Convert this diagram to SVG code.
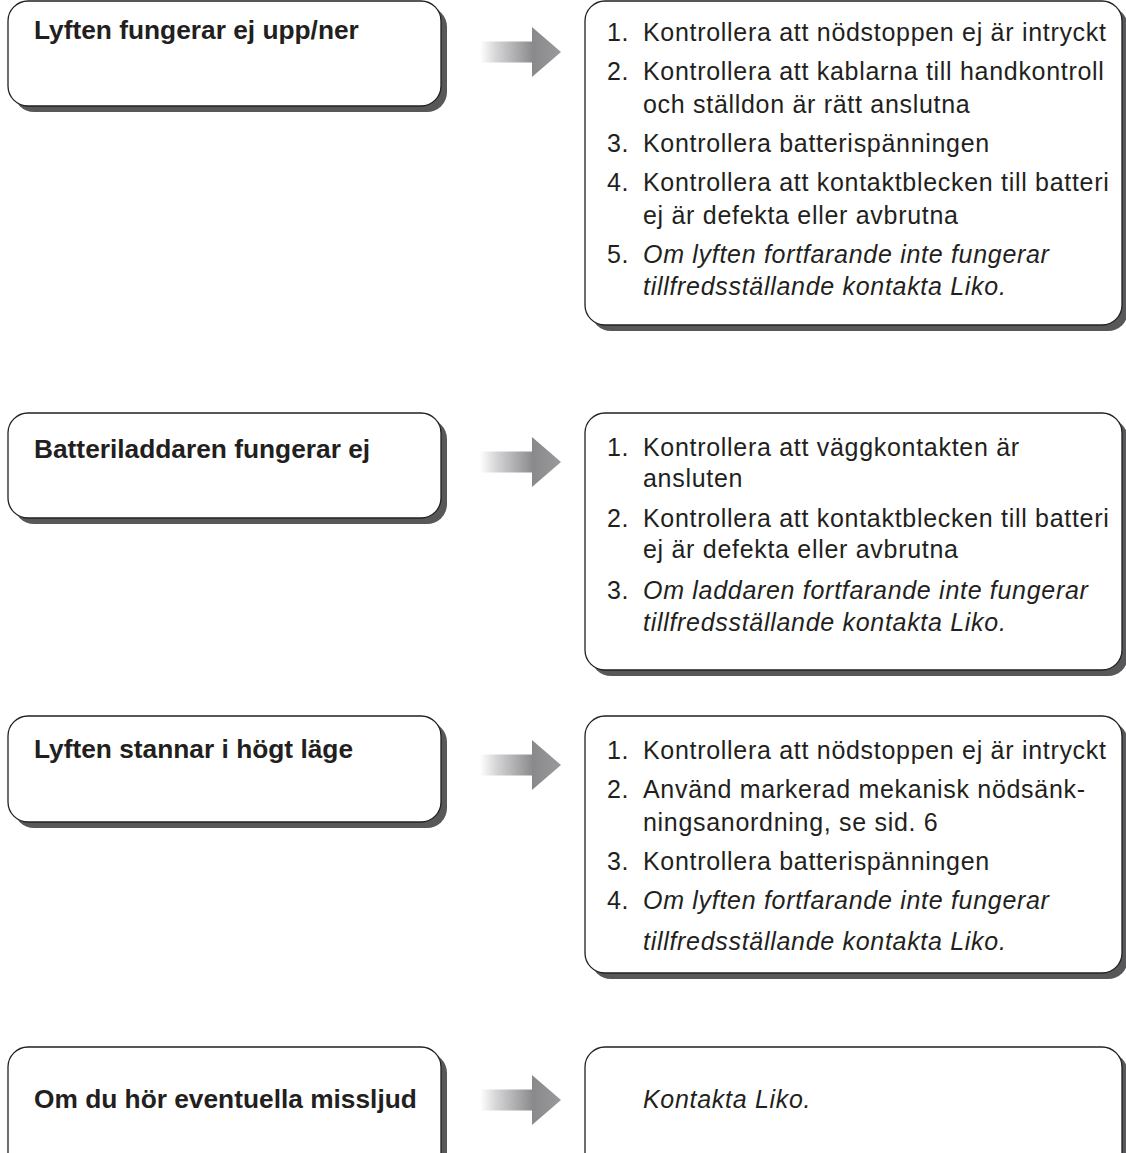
<svg xmlns="http://www.w3.org/2000/svg" width="1126" height="1153" viewBox="0 0 1126 1153">
<defs>
<linearGradient id="shaft" x1="0" y1="0" x2="1" y2="0">
<stop offset="0" stop-color="#ffffff"/>
<stop offset="0.3" stop-color="#d6d6d8"/>
<stop offset="1" stop-color="#8a8a8d"/>
</linearGradient>
<linearGradient id="head" x1="0" y1="0" x2="1" y2="0">
<stop offset="0" stop-color="#89898c"/>
<stop offset="1" stop-color="#9a9a9d"/>
</linearGradient>
<g id="arrow">
<rect x="480" y="-10.5" width="53" height="21" fill="url(#shaft)"/>
<polygon points="532,-25 561,0 532,25" fill="url(#head)"/>
</g>
</defs>
<style>
.sh{fill:#58585a;stroke:none}
.bx{fill:#ffffff;stroke:#231f20;stroke-width:1.3}
.lbl{font-family:"Liberation Sans",Arial,sans-serif;font-weight:bold;font-size:26.3px;fill:#231f20}
.t{font-family:"Liberation Sans",Arial,sans-serif;font-size:25px;fill:#231f20;letter-spacing:0.7px}
.i{font-style:italic}
</style>
<rect width="1126" height="1153" fill="#ffffff"/>

<g id="q1">
<rect class="sh" x="14" y="7" width="433" height="105" rx="20"/>
<rect class="bx" x="8" y="1" width="433" height="105" rx="20"/>
<text class="lbl" x="34" y="39">Lyften fungerar ej upp/ner</text>
</g>
<g id="a1">
<rect class="sh" x="591" y="7" width="537" height="324" rx="20"/>
<rect class="bx" x="585" y="1" width="537" height="324" rx="20"/>
<text class="t"><tspan x="607" y="41">1.</tspan><tspan x="643" y="41">Kontrollera att nödstoppen ej är intryckt</tspan><tspan x="607" y="80">2.</tspan><tspan x="643" y="80">Kontrollera att kablarna till handkontroll</tspan><tspan x="643" y="113">och ställdon är rätt anslutna</tspan><tspan x="607" y="152">3.</tspan><tspan x="643" y="152">Kontrollera batterispänningen</tspan><tspan x="607" y="191">4.</tspan><tspan x="643" y="191">Kontrollera att kontaktblecken till batteri</tspan><tspan x="643" y="224">ej är defekta eller avbrutna</tspan><tspan x="607" y="263">5.</tspan><tspan class="i" x="643" y="263">Om lyften fortfarande inte fungerar</tspan><tspan class="i" x="643" y="295">tillfredsställande kontakta Liko.</tspan></text>
</g>

<g id="q2">
<rect class="sh" x="14" y="419" width="433" height="105" rx="20"/>
<rect class="bx" x="8" y="413" width="433" height="105" rx="20"/>
<text class="lbl" x="34" y="458">Batteriladdaren fungerar ej</text>
</g>
<g id="a2">
<rect class="sh" x="591" y="419" width="537" height="257" rx="20"/>
<rect class="bx" x="585" y="413" width="537" height="257" rx="20"/>
<text class="t"><tspan x="607" y="456">1.</tspan><tspan x="643" y="456">Kontrollera att väggkontakten är</tspan><tspan x="643" y="487">ansluten</tspan><tspan x="607" y="527">2.</tspan><tspan x="643" y="527">Kontrollera att kontaktblecken till batteri</tspan><tspan x="643" y="558">ej är defekta eller avbrutna</tspan><tspan x="607" y="599">3.</tspan><tspan class="i" x="643" y="599">Om laddaren fortfarande inte fungerar</tspan><tspan class="i" x="643" y="631">tillfredsställande kontakta Liko.</tspan></text>
</g>

<g id="q3">
<rect class="sh" x="14" y="722" width="433" height="106" rx="20"/>
<rect class="bx" x="8" y="716" width="433" height="106" rx="20"/>
<text class="lbl" x="34" y="758">Lyften stannar i högt läge</text>
</g>
<g id="a3">
<rect class="sh" x="591" y="722" width="537" height="257" rx="20"/>
<rect class="bx" x="585" y="716" width="537" height="257" rx="20"/>
<text class="t"><tspan x="607" y="759">1.</tspan><tspan x="643" y="759">Kontrollera att nödstoppen ej är intryckt</tspan><tspan x="607" y="798">2.</tspan><tspan x="643" y="798">Använd markerad mekanisk nödsänk-</tspan><tspan x="643" y="831">ningsanordning, se sid. 6</tspan><tspan x="607" y="870">3.</tspan><tspan x="643" y="870">Kontrollera batterispänningen</tspan><tspan x="607" y="909">4.</tspan><tspan class="i" x="643" y="909">Om lyften fortfarande inte fungerar</tspan><tspan class="i" x="643" y="950">tillfredsställande kontakta Liko.</tspan></text>
</g>

<g id="q4">
<rect class="sh" x="14" y="1053" width="433" height="130" rx="20"/>
<rect class="bx" x="8" y="1047" width="433" height="130" rx="20"/>
<text class="lbl" x="34" y="1108">Om du hör eventuella missljud</text>
</g>
<g id="a4">
<rect class="sh" x="591" y="1053" width="537" height="130" rx="20"/>
<rect class="bx" x="585" y="1047" width="537" height="130" rx="20"/>
<text class="t i" x="643" y="1108">Kontakta Liko.</text>
</g>

<g id="connectors">
<use href="#arrow" y="52"/>
<use href="#arrow" y="462"/>
<use href="#arrow" y="765"/>
<use href="#arrow" y="1100"/>
</g>
</svg>
